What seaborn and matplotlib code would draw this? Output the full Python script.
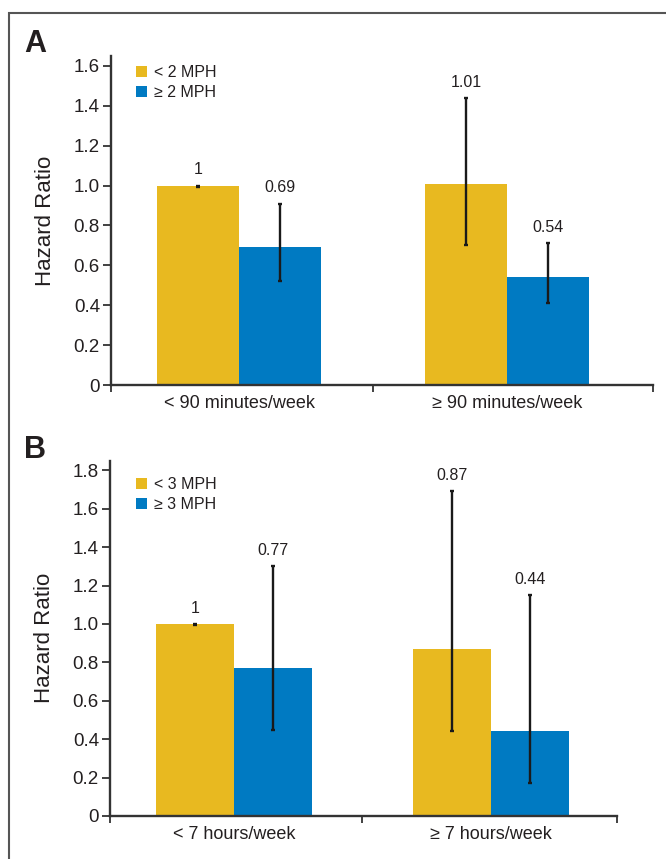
"""Hazard ratio by walking pace — two panels, bars with CI whiskers."""

import matplotlib.pyplot as plt
import pandas as pd
import seaborn as sns
from matplotlib.patches import Rectangle

# panel A
a_groups = ["< 90 minutes/week", "≥ 90 minutes/week"]
a_pace = ["< 2 MPH", "≥ 2 MPH"]
a_hr = [[1.0, 0.69], [1.01, 0.54]]
a_low = [[0.995, 0.52], [0.70, 0.41]]
a_high = [[1.0, 0.91], [1.44, 0.71]]
a_labels = [["1", "0.69"], ["1.01", "0.54"]]

# panel B
b_groups = ["< 7 hours/week", "≥ 7 hours/week"]
b_pace = ["< 3 MPH", "≥ 3 MPH"]
b_hr = [[1.0, 0.77], [0.87, 0.44]]
b_low = [[0.995, 0.45], [0.44, 0.17]]
b_high = [[1.0, 1.30], [1.69, 1.15]]
b_labels = [["1", "0.77"], ["0.87", "0.44"]]

YELLOW = "#E8B920"
BLUE = "#007AC2"
INK = "#231F20"
FONT = ["Liberation Sans", "DejaVu Sans"]


def to_frame(groups, pace, hr, low, high, labels):
    rows = []
    for gi, g in enumerate(groups):
        for pi, p in enumerate(pace):
            rows.append(
                {
                    "group": g,
                    "pace": p,
                    "hr": hr[gi][pi],
                    "low": low[gi][pi],
                    "high": high[gi][pi],
                    "label": labels[gi][pi],
                }
            )
    return pd.DataFrame(rows)


def draw_panel(ax, df, groups, pace, ymax, yticks, xlim, legend_anchor):
    sns.barplot(
        data=df, x="group", y="hr", hue="pace", order=groups, hue_order=pace,
        palette=[YELLOW, BLUE], width=0.61, gap=0, errorbar=None,
        saturation=1, linewidth=0, ax=ax,
    )
    bar_containers = list(ax.containers)[: len(pace)]
    for pi, cont in enumerate(bar_containers):
        sub = df[df["pace"] == pace[pi]].set_index("group").loc[groups]
        for bar, (_, r) in zip(cont.patches, sub.iterrows()):
            xc = bar.get_x() + bar.get_width() / 2
            ax.errorbar(
                xc, r["hr"], yerr=[[r["hr"] - r["low"]], [r["high"] - r["hr"]]],
                fmt="none", ecolor="#1a1a1a", elinewidth=1.7, capsize=1.6, capthick=1.7,
            )
            ax.annotate(r["label"], (xc, r["high"]), xytext=(0, 6),
                        textcoords="offset points", ha="center", va="bottom",
                        fontsize=11.5, color=INK, family=FONT)

    ax.set_xlim(*xlim)
    ax.set_ylim(0, ymax)
    ax.set_yticks(yticks)
    ax.set_yticklabels(["0" if t == 0 else f"{t:.1f}" for t in yticks],
                       fontsize=13.5, family=FONT, color=INK)
    ax.set_xticks([0, 1])
    ax.set_xticklabels(groups, fontsize=13, family=FONT, color=INK)
    ax.set_xticks([xlim[0], 0.5, xlim[1]], minor=True)
    ax.tick_params(axis="x", which="major", bottom=False, length=0, pad=7)
    ax.tick_params(axis="x", which="minor", bottom=True, length=5, width=1.3, color="#333333")
    ax.tick_params(axis="y", left=True, length=6, width=1.3, color="#333333", pad=2)
    ax.set_xlabel("")
    ax.set_ylabel("Hazard Ratio", fontsize=16, family=FONT, color=INK, labelpad=13)
    for s in ["top", "right"]:
        ax.spines[s].set_visible(False)
    for s in ["left", "bottom"]:
        ax.spines[s].set_color("#333333")
        ax.spines[s].set_linewidth(1.7)

    handles, lbls = ax.get_legend_handles_labels()
    leg = ax.legend(handles[: len(pace)], lbls[: len(pace)], loc="upper left",
                    bbox_to_anchor=legend_anchor, borderaxespad=0, borderpad=0,
                    frameon=False, handlelength=0.7, handleheight=0.7,
                    handletextpad=0.45, labelspacing=0.3,
                    prop={"family": FONT, "size": 11.5})
    for t in leg.get_texts():
        t.set_color(INK)


sns.set_style("white")
plt.rcParams["font.family"] = FONT

fig = plt.figure(figsize=(6.66, 8.59), dpi=100)
ax_a = fig.add_axes([111 / 666, 0.5518, 542 / 666, 0.383])
ax_b = fig.add_axes([110 / 666, 0.0501, 507 / 666, 0.4135])

df_a = to_frame(a_groups, a_pace, a_hr, a_low, a_high, a_labels)
df_b = to_frame(b_groups, b_pace, b_hr, b_low, b_high, b_labels)
draw_panel(ax_a, df_a, a_groups, a_pace, 1.65,
           [0, 0.2, 0.4, 0.6, 0.8, 1.0, 1.2, 1.4, 1.6], (-0.478, 1.545), (0.046, 0.972))
draw_panel(ax_b, df_b, b_groups, b_pace, 1.85,
           [0, 0.2, 0.4, 0.6, 0.8, 1.0, 1.2, 1.4, 1.6, 1.8], (-0.482, 1.49), (0.051, 0.953))

for letter, ybase in [("A", 52), ("B", 458)]:
    fig.text(24 / 666, 1 - ybase / 859, letter, fontsize=22, fontweight="bold",
             family=FONT, ha="left", va="baseline", color=INK)

fig.patches.append(Rectangle((9 / 666, -0.02), 1.0, 1 - 13 / 859 + 0.02,
                             transform=fig.transFigure, fill=False,
                             edgecolor="#555555", linewidth=1.5))

fig.savefig("out.png", dpi=100)
